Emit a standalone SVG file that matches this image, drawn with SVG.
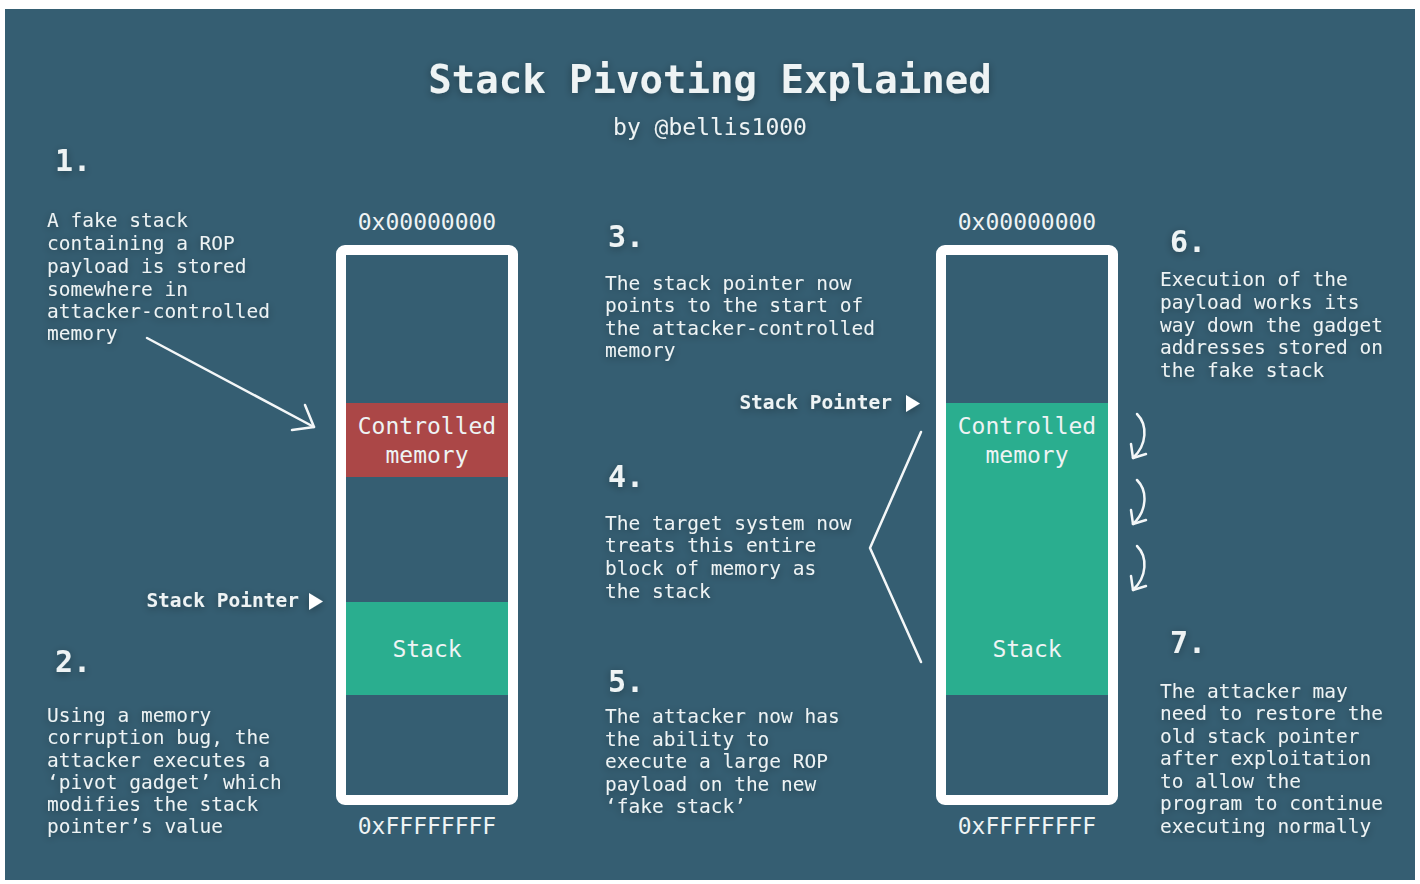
<svg xmlns="http://www.w3.org/2000/svg" width="1420" height="884" viewBox="0 0 1420 884">
<defs>
<filter id="glow" x="-20%" y="-50%" width="140%" height="200%">
<feDropShadow dx="0" dy="2" stdDeviation="4" flood-color="#000" flood-opacity="0.35"/>
</filter>
<style>
text{font-family:"DejaVu Sans Mono","Liberation Mono",monospace;fill:#eef3f4}
.title{font-size:39px;font-weight:bold}
.sub{font-size:23px}
.num{font-size:30px;font-weight:bold}
.body{font-size:19.5px}
.lbl{font-size:23px;text-anchor:middle}
.sp{font-size:19.5px;font-weight:bold;text-anchor:end}
.frame{fill:none;stroke:#ffffff;stroke-width:10}
.ln{fill:none;stroke:#f4f7f8;stroke-width:2.5;stroke-linecap:round;stroke-linejoin:round}
.tri{fill:#ffffff}
</style>
</defs>
<rect x="0" y="0" width="1420" height="884" fill="#ffffff"/>
<rect x="5" y="9" width="1410" height="871" fill="#355e72"/>

<g id="title" filter="url(#glow)">
<text class="title" x="710" y="93" text-anchor="middle">Stack Pivoting Explained</text>
<text class="sub" x="710" y="135" text-anchor="middle">by @bellis1000</text>
</g>

<g id="step1" filter="url(#glow)">
<text class="num" x="55" y="171">1.</text>
<text class="body" x="47" y="227">A fake stack</text>
<text class="body" x="47" y="250">containing a ROP</text>
<text class="body" x="47" y="273">payload is stored</text>
<text class="body" x="47" y="296">somewhere in</text>
<text class="body" x="47" y="318">attacker-controlled</text>
<text class="body" x="47" y="340">memory</text>
</g>

<g id="step2" filter="url(#glow)">
<text class="num" x="55" y="672">2.</text>
<text class="body" x="47" y="722">Using a memory</text>
<text class="body" x="47" y="744">corruption bug, the</text>
<text class="body" x="47" y="767">attacker executes a</text>
<text class="body" x="47" y="789">‘pivot gadget’ which</text>
<text class="body" x="47" y="811">modifies the stack</text>
<text class="body" x="47" y="833">pointer’s value</text>
</g>

<g id="step3" filter="url(#glow)">
<text class="num" x="608" y="247">3.</text>
<text class="body" x="605" y="290">The stack pointer now</text>
<text class="body" x="605" y="312">points to the start of</text>
<text class="body" x="605" y="335">the attacker-controlled</text>
<text class="body" x="605" y="357">memory</text>
</g>

<g id="step4" filter="url(#glow)">
<text class="num" x="608" y="487">4.</text>
<text class="body" x="605" y="530">The target system now</text>
<text class="body" x="605" y="552">treats this entire</text>
<text class="body" x="605" y="575">block of memory as</text>
<text class="body" x="605" y="598">the stack</text>
</g>

<g id="step5" filter="url(#glow)">
<text class="num" x="608" y="692">5.</text>
<text class="body" x="605" y="723">The attacker now has</text>
<text class="body" x="605" y="746">the ability to</text>
<text class="body" x="605" y="768">execute a large ROP</text>
<text class="body" x="605" y="791">payload on the new</text>
<text class="body" x="605" y="813">‘fake stack’</text>
</g>

<g id="step6" filter="url(#glow)">
<text class="num" x="1170" y="252">6.</text>
<text class="body" x="1160" y="286">Execution of the</text>
<text class="body" x="1160" y="309">payload works its</text>
<text class="body" x="1160" y="332">way down the gadget</text>
<text class="body" x="1160" y="354">addresses stored on</text>
<text class="body" x="1160" y="377">the fake stack</text>
</g>

<g id="step7" filter="url(#glow)">
<text class="num" x="1170" y="653">7.</text>
<text class="body" x="1160" y="698">The attacker may</text>
<text class="body" x="1160" y="720">need to restore the</text>
<text class="body" x="1160" y="743">old stack pointer</text>
<text class="body" x="1160" y="765">after exploitation</text>
<text class="body" x="1160" y="788">to allow the</text>
<text class="body" x="1160" y="810">program to continue</text>
<text class="body" x="1160" y="833">executing normally</text>
</g>

<g id="stack-before">
<text class="lbl" x="427" y="230">0x00000000</text>
<rect x="346" y="403" width="162" height="74" fill="#ab4747"/>
<text class="lbl" x="427" y="434">Controlled</text>
<text class="lbl" x="427" y="463">memory</text>
<rect x="346" y="602" width="162" height="93" fill="#2aae8f"/>
<text class="lbl" x="427" y="657">Stack</text>
<rect class="frame" x="341" y="250" width="172" height="550" rx="4"/>
<text class="lbl" x="427" y="834">0xFFFFFFFF</text>
</g>

<g id="sp-before" filter="url(#glow)">
<text class="sp" x="299" y="607">Stack Pointer</text>
<polygon class="tri" points="309,593 323,601.5 309,610"/>
</g>

<g id="stack-after">
<text class="lbl" x="1027" y="230">0x00000000</text>
<rect x="946" y="403" width="162" height="292" fill="#2aae8f"/>
<text class="lbl" x="1027" y="434">Controlled</text>
<text class="lbl" x="1027" y="463">memory</text>
<text class="lbl" x="1027" y="657">Stack</text>
<rect class="frame" x="941" y="250" width="172" height="550" rx="4"/>
<text class="lbl" x="1027" y="834">0xFFFFFFFF</text>
</g>

<g id="sp-after" filter="url(#glow)">
<text class="sp" x="892" y="409">Stack Pointer</text>
<polygon class="tri" points="906,395 920,403.5 906,412"/>
</g>

<g id="connectors">
<path class="ln" d="M147,338 L314,427"/>
<path class="ln" d="M292,430 L314,427 L305,405"/>
<path class="ln" d="M921,432 L870,548 L921,662"/>
<g id="curl1">
<path class="ln" d="M1137,414 C1148,425 1147,445 1133,458"/>
<path class="ln" d="M1131,444 L1133,458 L1146,454"/>
</g>
<g id="curl2">
<path class="ln" d="M1137,480 C1148,491 1147,511 1133,524"/>
<path class="ln" d="M1131,510 L1133,524 L1146,520"/>
</g>
<g id="curl3">
<path class="ln" d="M1137,546 C1148,557 1147,577 1133,590"/>
<path class="ln" d="M1131,576 L1133,590 L1146,586"/>
</g>
</g>
</svg>
